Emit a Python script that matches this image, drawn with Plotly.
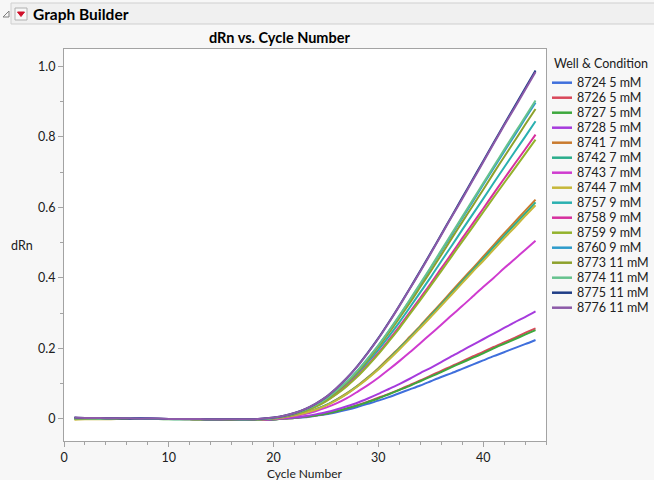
import plotly.graph_objects as go

# ---------------- data ----------------
cycles = list(range(1, 46))

wells = ["8724 5 mM", "8726 5 mM", "8727 5 mM", "8728 5 mM",
         "8741 7 mM", "8742 7 mM", "8743 7 mM", "8744 7 mM",
         "8757 9 mM", "8758 9 mM", "8759 9 mM", "8760 9 mM",
         "8773 11 mM", "8774 11 mM", "8775 11 mM", "8776 11 mM"]

colors = ["#3F6FDC", "#D9475A", "#3DA83D", "#A63BDD",
          "#C97A2E", "#2BAD8C", "#CF3BCF", "#C6B83A",
          "#2AB0B0", "#D6309E", "#93B22C", "#2E9BCB",
          "#8DA12C", "#66C28E", "#1F3D86", "#8C5AA8"]

d8724 = [0.002, 0.002, 0.001, 0.001, 0.001, 0.001, 0.000, 0.000, 0.000, 0.000, 0.000, 0.000, -0.001, -0.001, -0.001, -0.002, -0.003, -0.003, -0.002,
         -0.001, 0.001, 0.003, 0.005, 0.009, 0.013, 0.019, 0.026, 0.034, 0.043, 0.052, 0.062, 0.073, 0.084, 0.095, 0.107, 0.119, 0.130, 0.142, 0.154, 0.166, 0.178, 0.189, 0.201, 0.212, 0.224]
d8726 = [0.003, 0.002, 0.002, 0.001, 0.001, 0.001, 0.001, 0.000, 0.000, 0.000, 0.000, -0.001, -0.001, -0.001, -0.001, -0.002, -0.003, -0.003, -0.002,
         -0.001, 0.001, 0.003, 0.006, 0.010, 0.015, 0.022, 0.030, 0.039, 0.049, 0.060, 0.071, 0.083, 0.096, 0.109, 0.123, 0.136, 0.150, 0.163, 0.177, 0.190, 0.204, 0.217, 0.230, 0.244, 0.257]
d8727 = [0.001, 0.001, 0.001, 0.001, 0.000, 0.000, 0.000, 0.000, 0.000, -0.001, -0.001, -0.001, -0.001, -0.001, -0.002, -0.002, -0.003, -0.003, -0.003,
         -0.002, 0.001, 0.003, 0.006, 0.010, 0.015, 0.022, 0.030, 0.038, 0.048, 0.058, 0.070, 0.082, 0.094, 0.107, 0.120, 0.133, 0.147, 0.160, 0.173, 0.186, 0.200, 0.213, 0.226, 0.239, 0.252]
d8728 = [0.003, 0.003, 0.002, 0.002, 0.001, 0.001, 0.001, 0.001, 0.000, 0.000, 0.000, 0.000, -0.001, -0.001, -0.001, -0.002, -0.003, -0.003, -0.002,
         -0.001, 0.002, 0.004, 0.008, 0.013, 0.019, 0.027, 0.036, 0.046, 0.058, 0.071, 0.085, 0.099, 0.114, 0.130, 0.145, 0.161, 0.178, 0.194, 0.210, 0.226, 0.242, 0.258, 0.274, 0.289, 0.305]
d8741 = [0.002, 0.002, 0.001, 0.001, 0.001, 0.001, 0.000, 0.000, 0.000, 0.000, 0.000, 0.000, -0.001, -0.001, -0.001, -0.002, -0.002, -0.002, -0.001,
         0.002, 0.005, 0.010, 0.017, 0.027, 0.039, 0.055, 0.073, 0.094, 0.118, 0.144, 0.173, 0.202, 0.233, 0.264, 0.297, 0.329, 0.362, 0.395, 0.427, 0.460, 0.493, 0.526, 0.558, 0.590, 0.622]
d8742 = [0.002, 0.001, 0.001, 0.001, 0.001, 0.000, 0.000, 0.000, 0.000, 0.000, -0.001, -0.001, -0.001, -0.001, -0.001, -0.002, -0.003, -0.002, -0.001,
         0.001, 0.005, 0.010, 0.017, 0.027, 0.039, 0.054, 0.072, 0.093, 0.117, 0.142, 0.170, 0.200, 0.230, 0.261, 0.293, 0.325, 0.357, 0.390, 0.422, 0.454, 0.487, 0.519, 0.551, 0.582, 0.614]
d8743 = [0.003, 0.002, 0.002, 0.002, 0.001, 0.001, 0.001, 0.001, 0.000, 0.000, 0.000, 0.000, 0.000, -0.001, -0.001, -0.002, -0.002, -0.003, -0.002,
         0.000, 0.003, 0.008, 0.014, 0.022, 0.032, 0.044, 0.059, 0.077, 0.096, 0.117, 0.140, 0.164, 0.189, 0.215, 0.241, 0.267, 0.294, 0.320, 0.347, 0.374, 0.400, 0.427, 0.453, 0.479, 0.505]
d8744 = [-0.002, -0.001, -0.001, -0.001, 0.000, 0.000, 0.000, 0.000, 0.000, 0.000, 0.000, 0.000, -0.001, -0.001, -0.001, -0.002, -0.002, -0.002, -0.001,
         0.001, 0.005, 0.010, 0.017, 0.026, 0.038, 0.053, 0.071, 0.092, 0.115, 0.140, 0.168, 0.197, 0.227, 0.258, 0.289, 0.321, 0.353, 0.385, 0.417, 0.448, 0.480, 0.512, 0.543, 0.575, 0.606]
d8757 = [0.002, 0.002, 0.001, 0.001, 0.001, 0.001, 0.001, 0.000, 0.000, 0.000, 0.000, 0.000, -0.001, -0.001, -0.001, -0.001, -0.002, -0.001, 0.000,
         0.003, 0.007, 0.014, 0.024, 0.037, 0.053, 0.074, 0.099, 0.128, 0.161, 0.196, 0.234, 0.274, 0.316, 0.359, 0.402, 0.447, 0.491, 0.536, 0.580, 0.624, 0.669, 0.713, 0.757, 0.800, 0.844]
d8758 = [0.003, 0.002, 0.002, 0.001, 0.001, 0.001, 0.001, 0.000, 0.000, 0.000, 0.000, 0.000, -0.001, -0.001, -0.002, -0.002, -0.003, -0.002, -0.001,
         0.002, 0.006, 0.013, 0.023, 0.035, 0.051, 0.071, 0.095, 0.122, 0.153, 0.187, 0.224, 0.262, 0.302, 0.343, 0.384, 0.427, 0.469, 0.512, 0.554, 0.596, 0.639, 0.681, 0.723, 0.764, 0.806]
d8759 = [0.001, 0.001, 0.001, 0.000, 0.000, 0.000, 0.000, 0.000, 0.000, 0.000, 0.000, 0.000, -0.001, -0.001, -0.001, -0.002, -0.002, -0.002, -0.001,
         0.002, 0.006, 0.013, 0.022, 0.034, 0.050, 0.070, 0.093, 0.120, 0.151, 0.184, 0.220, 0.257, 0.297, 0.337, 0.378, 0.419, 0.461, 0.503, 0.544, 0.586, 0.628, 0.669, 0.710, 0.751, 0.792]
d8760 = [0.002, 0.002, 0.002, 0.001, 0.001, 0.001, 0.001, 0.001, 0.000, 0.000, 0.000, 0.000, 0.000, -0.001, -0.001, -0.001, -0.002, -0.001, 0.000,
         0.003, 0.008, 0.015, 0.025, 0.039, 0.056, 0.079, 0.105, 0.136, 0.171, 0.208, 0.249, 0.291, 0.336, 0.381, 0.428, 0.475, 0.522, 0.569, 0.616, 0.664, 0.711, 0.758, 0.804, 0.851, 0.897]
d8773 = [0.001, 0.001, 0.001, 0.001, 0.000, 0.000, 0.000, 0.000, 0.000, 0.000, 0.000, 0.000, -0.001, -0.001, -0.001, -0.002, -0.002, -0.001, 0.000,
         0.003, 0.008, 0.015, 0.025, 0.038, 0.055, 0.077, 0.103, 0.133, 0.167, 0.204, 0.244, 0.286, 0.329, 0.374, 0.419, 0.465, 0.512, 0.558, 0.604, 0.650, 0.697, 0.743, 0.788, 0.834, 0.879]
d8774 = [0.002, 0.002, 0.001, 0.001, 0.001, 0.001, 0.000, 0.000, 0.000, 0.000, 0.000, 0.000, -0.001, -0.001, -0.001, -0.001, -0.002, -0.001, 0.000,
         0.003, 0.008, 0.016, 0.026, 0.039, 0.057, 0.080, 0.106, 0.137, 0.172, 0.209, 0.250, 0.293, 0.338, 0.384, 0.430, 0.478, 0.526, 0.573, 0.621, 0.668, 0.716, 0.763, 0.810, 0.856, 0.903]
d8775 = [0.004, 0.003, 0.003, 0.002, 0.002, 0.001, 0.001, 0.001, 0.001, 0.000, 0.000, 0.000, 0.000, -0.001, -0.001, -0.001, -0.001, -0.001, 0.001,
         0.004, 0.009, 0.017, 0.028, 0.043, 0.062, 0.087, 0.116, 0.150, 0.188, 0.229, 0.274, 0.321, 0.370, 0.420, 0.471, 0.523, 0.575, 0.627, 0.679, 0.731, 0.783, 0.835, 0.886, 0.937, 0.988]
d8776 = [0.004, 0.003, 0.003, 0.002, 0.002, 0.002, 0.001, 0.001, 0.001, 0.000, 0.000, 0.000, 0.000, -0.001, -0.001, -0.001, -0.001, -0.001, 0.001,
         0.004, 0.009, 0.017, 0.028, 0.043, 0.062, 0.087, 0.116, 0.149, 0.187, 0.228, 0.273, 0.320, 0.369, 0.418, 0.469, 0.521, 0.573, 0.624, 0.676, 0.728, 0.780, 0.832, 0.882, 0.933, 0.984]

series = [d8724, d8726, d8727, d8728, d8741, d8742, d8743, d8744,
          d8757, d8758, d8759, d8760, d8773, d8774, d8775, d8776]

x_ticks = [0, 10, 20, 30, 40]
y_ticks = [0, 0.2, 0.4, 0.6, 0.8, 1.0]
y_tick_text = ["0", "0.2", "0.4", "0.6", "0.8", "1.0"]

# ---------------- layout geometry (pixels) ----------------
W, H = 654, 480
L, R, T, B = 64, 546, 49, 441
FONT = "Lato, 'Noto Sans', sans-serif"


def px(x):
    return (x - L) / (R - L)


def py(y):
    return (B - y) / (B - T)


fig = go.Figure()
for name, col, vals in zip(wells, colors, series):
    fig.add_trace(go.Scatter(x=cycles, y=vals, mode="lines", name=name,
                             line=dict(color=col, width=2, shape="spline", smoothing=0.8),
                             showlegend=False))

axis_common = dict(showline=True, linecolor="#A3A3A3", linewidth=1, mirror=True,
                   showgrid=False, zeroline=False, ticks="outside", ticklen=5,
                   tickcolor="#A3A3A3", tickfont=dict(family=FONT, size=12.5, color="#202020"))

fig.update_xaxes(range=[0, 46], tickvals=x_ticks,
                 minor=dict(dtick=2, ticks="outside", ticklen=3, tickcolor="#A3A3A3"),
                 **axis_common)
fig.update_yaxes(range=[-0.0625, 1.049], tickvals=y_ticks, ticktext=y_tick_text,
                 minor=dict(dtick=0.1, ticks="outside", ticklen=3, tickcolor="#A3A3A3"),
                 **axis_common)

shapes = []
ann = []

# header bar
shapes.append(dict(type="rect", xref="paper", yref="paper",
                   x0=px(11), x1=px(660), y0=py(24), y1=py(3),
                   fillcolor="#F0F0F0", line=dict(color="#CFCFCF", width=1), layer="below"))
# disclosure triangle
shapes.append(dict(type="path", xref="paper", yref="paper",
                   path=f"M {px(3)} {py(17)} L {px(9)} {py(17)} L {px(9)} {py(11)} Z",
                   fillcolor="rgba(0,0,0,0)", line=dict(color="#808080", width=1)))
# red dropdown button
shapes.append(dict(type="rect", xref="paper", yref="paper",
                   x0=px(15), x1=px(27), y0=py(20), y1=py(8),
                   fillcolor="#F7F7F7", line=dict(color="#B0B0B0", width=1)))
shapes.append(dict(type="path", xref="paper", yref="paper",
                   path=f"M {px(17.5)} {py(12)} L {px(24.5)} {py(12)} L {px(21)} {py(16.5)} Z",
                   fillcolor="#D0102A", line=dict(color="#D0102A", width=1)))
ann.append(dict(text="<b>Graph Builder</b>", xref="paper", yref="paper", x=px(31), y=py(14),
                xanchor="left", yanchor="middle", showarrow=False,
                font=dict(family=FONT, size=15.5, color="#000000")))

# title
ann.append(dict(text="<b>dRn vs. Cycle Number</b>", xref="paper", yref="paper",
                x=px(279.5), y=py(37), xanchor="center", yanchor="middle", showarrow=False,
                font=dict(family=FONT, size=14.5, color="#000000")))
# axis titles
ann.append(dict(text="Cycle Number", xref="paper", yref="paper", x=px(304), y=py(473.5),
                xanchor="center", yanchor="middle", showarrow=False,
                font=dict(family=FONT, size=12, color="#202020")))
ann.append(dict(text="dRn", xref="paper", yref="paper", x=px(22), y=py(245),
                xanchor="center", yanchor="middle", showarrow=False,
                font=dict(family=FONT, size=12.5, color="#202020")))

# legend (drawn manually)
ann.append(dict(text="Well & Condition", xref="paper", yref="paper", x=px(552), y=py(63.5),
                xanchor="left", yanchor="middle", showarrow=False,
                font=dict(family=FONT, size=12.5, color="#202020")))
for i, (name, col) in enumerate(zip(wells, colors)):
    yy = 82.7 + 15 * i
    shapes.append(dict(type="line", xref="paper", yref="paper",
                       x0=px(552), x1=px(572), y0=py(yy), y1=py(yy),
                       line=dict(color=col, width=2.5)))
    ann.append(dict(text=name, xref="paper", yref="paper", x=px(575), y=py(yy),
                    xanchor="left", yanchor="middle", showarrow=False,
                    font=dict(family=FONT, size=12.5, color="#202020")))

fig.update_layout(width=W, height=H, autosize=False,
                  margin=dict(l=L, r=W - R, t=T, b=H - B, pad=0),
                  paper_bgcolor="#F7F7F7", plot_bgcolor="#FFFFFF",
                  shapes=shapes, annotations=ann, showlegend=False,
                  font=dict(family=FONT))

fig.write_html("out.html", config={"displayModeBar": False},
               post_script="document.body.style.margin='0';")
